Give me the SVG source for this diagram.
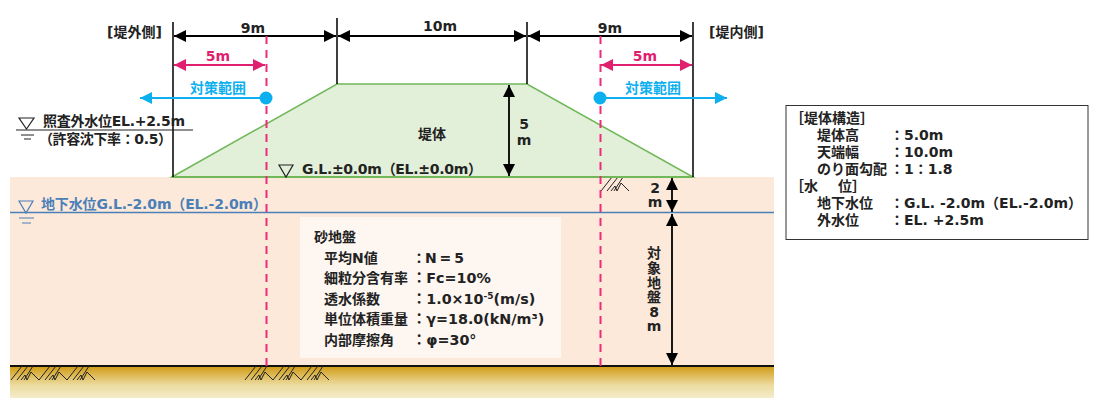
<svg xmlns="http://www.w3.org/2000/svg" width="1100" height="410" viewBox="0 0 1100 410">
<style>
text{font-family:"DejaVu Sans","Noto Sans CJK JP",sans-serif;font-weight:700;font-size:14px;fill:#222}
.m{text-anchor:middle}
.k{stroke:#000;stroke-width:1.5;fill:none}
.dim{stroke:#000;stroke-width:1.8;fill:none;marker-start:url(#ka);marker-end:url(#ka)}
.red{stroke:#e0206e;stroke-width:2;fill:none;marker-start:url(#ra);marker-end:url(#ra)}
.dash{stroke:#ee2a7b;stroke-width:2;stroke-dasharray:8 6;fill:none}
.blue{stroke:#0db0ef;stroke-width:2;fill:none;marker-end:url(#ba)}
.h{stroke:#222;stroke-width:1;fill:none}
.rt{fill:#e0206e}
.bt{fill:#0db0ef}
.wt{fill:#4a7fb8}
.v{font-size:14.300px}
</style>
<defs>
<marker id="ka" viewBox="0 0 12 12" refX="12" refY="6" markerUnits="userSpaceOnUse" markerWidth="12" markerHeight="12" orient="auto-start-reverse"><path d="M0 0L12 6L0 12Z" fill="#000"/></marker>
<marker id="ra" viewBox="0 0 12 12" refX="12" refY="6" markerUnits="userSpaceOnUse" markerWidth="12" markerHeight="12" orient="auto-start-reverse"><path d="M0 0L12 6L0 12Z" fill="#e0206e"/></marker>
<marker id="ba" viewBox="0 0 12 12" refX="12" refY="6" markerUnits="userSpaceOnUse" markerWidth="12" markerHeight="12" orient="auto"><path d="M0 0L12 6L0 12Z" fill="#0db0ef"/></marker>
<linearGradient id="g" x1="0" y1="0" x2="0" y2="1"><stop offset="0" stop-color="#d09a12"/><stop offset=".6" stop-color="#ecdca0"/><stop offset="1" stop-color="#f5eccb"/></linearGradient>
<g id="hatch" class="h"><path d="M0 14L11 0M6 14L17 0M10 14L14 9L16 14M13 14L22 0M20 6L28 14M20 6L16 14"/></g>
</defs>
<g id="soil">
<rect x="10" y="177" width="764" height="189" fill="#fce9da"/>
<rect x="10" y="366" width="764" height="32" fill="url(#g)"/>
<path d="M10 366H774" stroke="#111" stroke-width="2"/>
<path d="M10 212.500H774" stroke="#4a7fb8" stroke-width="1.500"/>
<use href="#hatch" x="11" y="366"/><use href="#hatch" x="39" y="366"/><use href="#hatch" x="67" y="366"/>
<use href="#hatch" x="245" y="366"/><use href="#hatch" x="273" y="366"/><use href="#hatch" x="301" y="366"/>
<use href="#hatch" x="601" y="177"/>
</g>
<g id="embankment">
<path d="M172 177L337 84H527L693 177Z" fill="#e2efd9" stroke="#70b858" stroke-width="1.5"/>
<path d="M172 177H693" stroke="#70b858" stroke-width="2.2"/>
<text class="m" x="432" y="139">堤体</text>
</g>
<g id="connectors">
<path class="k" d="M173 22V177M337 18V84M527 22V84M693 22V177"/>
<path class="dim" d="M174 36H336"/><path class="dim" d="M338 36H526"/><path class="dim" d="M528 36H692"/>
<path class="dash" d="M266.500 36V366M600.500 36V366"/>
<path class="red" d="M174 65H265"/><path class="red" d="M601 65H692"/>
<path class="blue" d="M266 98H140"/><path class="blue" d="M600 98H727"/>
<circle cx="266" cy="98" r="6.500" fill="#0db0ef"/><circle cx="600" cy="98" r="6.500" fill="#0db0ef"/>
<path class="dim" d="M509 85V176"/><path class="dim" d="M672 178V212"/><path class="dim" d="M672 214V365"/>
</g>
<g id="labels">
<text x="107" y="37">[堤外側]</text>
<text x="709" y="37">[堤内側]</text>
<text class="m" x="253" y="33">9m</text><text class="m" x="440" y="31">10m</text><text class="m" x="610" y="33">9m</text>
<text class="m rt" x="218" y="61">5m</text><text class="m rt" x="645" y="61">5m</text>
<text class="m bt" x="218" y="93">対策範囲</text><text class="m bt" x="653" y="93">対策範囲</text>
<text class="m" x="524" y="129">5</text><text class="m" x="524" y="145">m</text>
<text class="m" x="655" y="193">2</text><text class="m" x="655" y="207">m</text>
<text class="m" x="654" y="258">対</text><text class="m" x="654" y="273">象</text><text class="m" x="654" y="288">地</text><text class="m" x="654" y="302">盤</text><text class="m" x="654" y="317">8</text><text class="m" x="654" y="331">m</text>
</g>
<g id="level-outer">
<path d="M19 118H34L26.500 129Z" fill="none" stroke="#222" stroke-width="1.200"/>
<path d="M16 130H193M21 135H34M24 139H31" stroke="#222" stroke-width="1.200"/>
<text x="43" y="126" textLength="142">照査外水位EL.+2.5m</text>
<text x="39" y="144" textLength="133">（許容沈下率：0.5）</text>
</g>
<g id="level-gl">
<path d="M279 165H293L286 177Z" fill="none" stroke="#222" stroke-width="1.200"/>
<text x="302" y="174" textLength="180">G.L.±0.0m（EL.±0.0m）</text>
</g>
<g id="level-water">
<path d="M19 201H33L26 213Z" fill="none" stroke="#4a7fb8" stroke-width="1.200"/>
<path d="M19 218H34M22 223H31" stroke="#4a7fb8" stroke-width="1.200"/>
<text class="wt" x="41" y="209" textLength="226">地下水位G.L.-2.0m（EL.-2.0m）</text>
</g>
<g id="soil-box">
<rect x="300" y="217" width="261" height="141" fill="#fdf6f1"/>
<text x="314" y="242">砂地盤</text>
<text x="324" y="263">平均N値</text><text x="412" y="263" textLength="52">：N = 5</text>
<text x="324" y="283">細粒分含有率</text><text class="v" x="412" y="283">：Fc=10%</text>
<text x="324" y="304">透水係数</text><text class="v" x="412" y="304">：1.0×10<tspan font-size="9" dy="-5">-5</tspan><tspan dy="5">(m/s)</tspan></text>
<text x="324" y="324">単位体積重量</text><text class="v" x="412" y="324">：γ=18.0(kN/m³)</text>
<text x="324" y="345">内部摩擦角</text><text class="v" x="412" y="345">：φ=30°</text>
</g>
<g id="spec-box">
<rect x="786" y="105.500" width="302" height="134" fill="#fff" stroke="#333" stroke-width="1"/>
<text x="790" y="123">［堤体構造］</text>
<text x="817" y="140">堤体高</text><text x="890" y="140">：5.0m</text>
<text x="817" y="157">天端幅</text><text x="890" y="157">：10.0m</text>
<text x="817" y="174">のり面勾配</text><text x="890" y="174">：1：1.8</text>
<text x="790" y="191">［水<tspan x="838">位</tspan>］</text>
<text x="817" y="208">地下水位</text><text x="890" y="208">：G.L. -2.0m（EL.-2.0m）</text>
<text x="817" y="225">外水位</text><text x="890" y="225">：EL. +2.5m</text>
</g>
</svg>
